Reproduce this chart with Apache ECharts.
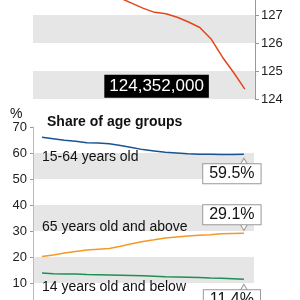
<!DOCTYPE html>
<html><head><meta charset="utf-8">
<script src="https://cdn.jsdelivr.net/npm/echarts@6/dist/echarts.min.js"></script>
<style>html,body{margin:0;padding:0;background:#fff}#c{width:300px;height:300px}</style>
</head><body><div id="c"></div>
<script>
const years = [2005,2006,2007,2008,2009,2010,2011,2012,2013,2014,2015,2016,2017,2018,2019,2020,2021,2022,2023];
// total population, millions
const population = [127.768,127.901,128.033,128.084,128.032,128.057,127.834,127.593,127.414,127.237,127.095,127.042,126.919,126.749,126.555,126.146,125.502,124.947,124.352];
// share of age groups, %
const share1564 = [66.1,65.5,64.9,64.5,63.9,63.8,63.6,62.9,62.1,61.3,60.8,60.3,60.0,59.7,59.5,59.5,59.4,59.4,59.5];
const share65 = [20.2,20.8,21.5,22.1,22.7,23.0,23.3,24.1,25.1,26.0,26.6,27.3,27.7,28.1,28.4,28.6,28.9,29.0,29.1];
const share014 = [13.8,13.6,13.5,13.5,13.3,13.2,13.1,13.0,12.9,12.8,12.6,12.4,12.3,12.2,12.1,11.9,11.8,11.6,11.4];
const groupNames = ['15-64 years old','65 years old and above','14 years old and below'];
const popTicks = [124,125,126,127,128,129];
const shareTicks = [0,10,20,30,40,50,60,70];

const narrow = '"Liberation Sans Narrow", "Liberation Sans", Arial, sans-serif';
const sans = '"Liberation Sans", Arial, sans-serif';
const last = years.length - 1;
const pairs = arr => years.map((y, i) => [y, arr[i]]);

function callout(arr, above, dist, ptrOff) {
  const v = arr[last];
  return {
    silent: true,
    animation: false,
    data: [
      {coord: [years[last], v], symbol: 'triangle', symbolSize: [7, 6],
       symbolRotate: above ? 180 : 0, symbolOffset: [0, ptrOff],
       itemStyle: {color: '#fff', borderColor: '#999', borderWidth: 1},
       label: {show: false}},
      {coord: [years[last], v], symbol: 'circle', symbolSize: 0,
       label: {show: true, position: above ? 'top' : 'bottom', distance: dist, offset: [-12, 0],
         formatter: v.toFixed(1) + '%', fontFamily: narrow, fontSize: 16, color: '#111',
         backgroundColor: '#fff', borderColor: '#999', borderWidth: 1,
         padding: [1, 6], lineHeight: 17}}
    ]
  };
}

const chart = echarts.init(document.getElementById('c'), null, {renderer: 'canvas'});
chart.setOption({
  animation: false,
  grid: [
    {left: 33, right: 45, top: -41, height: 140, outerBoundsMode: 'none'},
    {left: 33, right: 46, top: 127, height: 182, outerBoundsMode: 'none'}
  ],
  xAxis: [
    {gridIndex: 0, type: 'value', min: 2004.2, max: 2023.9, show: false},
    {gridIndex: 1, type: 'value', min: 2004.2, max: 2023.9, show: false}
  ],
  yAxis: [
    {gridIndex: 0, type: 'value', position: 'right', min: popTicks[0], max: popTicks[popTicks.length-1], interval: 1,
     axisLine: {show: true, lineStyle: {color: '#999'}},
     axisTick: {show: true, length: 4, lineStyle: {color: '#999'}},
     axisLabel: {margin: 6, fontFamily: narrow, fontSize: 13, color: '#222'},
     splitLine: {show: false},
     splitArea: {show: true, areaStyle: {color: ['#e6e6e6', '#ffffff']}}},
    {gridIndex: 1, type: 'value', position: 'left', min: shareTicks[0], max: shareTicks[shareTicks.length-1], interval: 10,
     axisLine: {show: true, lineStyle: {color: '#bbb'}},
     axisTick: {show: true, length: 3, lineStyle: {color: '#999'}},
     axisLabel: {margin: 6, fontFamily: narrow, fontSize: 13, color: '#222'},
     splitLine: {show: false},
     splitArea: {show: true, areaStyle: {color: ['#ffffff', '#e6e6e6']}}}
  ],
  series: [
    {type: 'line', xAxisIndex: 0, yAxisIndex: 0, data: pairs(population), symbol: 'none',
     lineStyle: {color: '#e4461c', width: 1.5},
     markPoint: {silent: true, animation: false, data: [
       {coord: [years[last], population[last]], symbol: 'circle', symbolSize: 0,
        label: {show: true, position: 'left', distance: 36, offset: [0, -3],
          formatter: Math.round(population[last] * 1e6).toLocaleString('en-US'),
          fontFamily: sans, fontSize: 17, color: '#fff', backgroundColor: '#000',
          padding: [3, 5, 2, 5], lineHeight: 18}}]}},
    {type: 'line', xAxisIndex: 1, yAxisIndex: 1, data: pairs(share1564), symbol: 'none',
     lineStyle: {color: '#1c5393', width: 1.5}, markPoint: callout(share1564, false, 10, 7)},
    {type: 'line', xAxisIndex: 1, yAxisIndex: 1, data: pairs(share65), symbol: 'none',
     lineStyle: {color: '#f39a26', width: 1.5}, markPoint: callout(share65, true, 9, -6)},
    {type: 'line', xAxisIndex: 1, yAxisIndex: 1, data: pairs(share014), symbol: 'none',
     lineStyle: {color: '#1f8f52', width: 1.5}, markPoint: callout(share014, false, 11, 8)}
  ],
  graphic: [
    {type: 'text', z: 100, left: 10, top: 107, style: {text: '%', font: '14px ' + sans, fill: '#111'}},
    {type: 'text', z: 100, left: 47, top: 115, style: {text: 'Share of age groups', font: 'bold 14px ' + sans, fill: '#111'}},
    {type: 'text', z: 100, left: 42, top: 150, style: {text: groupNames[0], font: '14px ' + sans, fill: '#111'}},
    {type: 'text', z: 100, left: 42, top: 220, style: {text: groupNames[1], font: '14px ' + sans, fill: '#111'}},
    {type: 'text', z: 100, left: 42, top: 280, style: {text: groupNames[2], font: '14px ' + sans, fill: '#111'}}
  ]
});
</script></body></html>
